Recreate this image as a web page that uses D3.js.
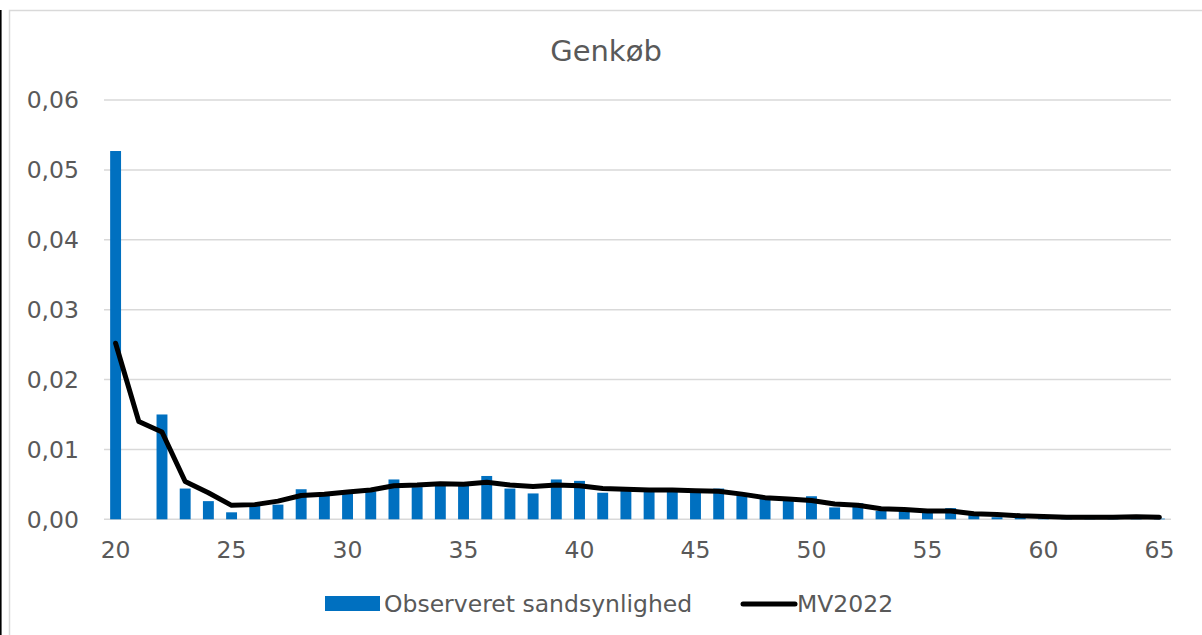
<!DOCTYPE html>
<html>
<head>
<meta charset="utf-8">
<script src="https://cdn.jsdelivr.net/npm/d3@7"></script>
<style>
  html, body { margin: 0; padding: 0; background: #fff; }
  svg { display: block; }
  text { font-family: "DejaVu Sans", Verdana, sans-serif; fill: #595959; }
</style>
</head>
<body>
<svg id="chart" width="1202" height="635"></svg>
<script>
const title = "Genkøb";
const ages = d3.range(20, 66);
const xTickLabels = [20, 25, 30, 35, 40, 45, 50, 55, 60, 65];
const yTicks = [0, 0.01, 0.02, 0.03, 0.04, 0.05, 0.06];
const seriesNames = ["Observeret sandsynlighed", "MV2022"];

const observed = [
  0.0527, 0.0000, 0.0150, 0.0044, 0.0026, 0.0010, 0.0019, 0.0021, 0.0043, 0.0035,
  0.0037, 0.0040, 0.0057, 0.0046, 0.0050, 0.0049, 0.0062, 0.0044, 0.0037, 0.0057,
  0.0055, 0.0038, 0.0041, 0.0041, 0.0041, 0.0040, 0.0044, 0.0034, 0.0029, 0.0027,
  0.0033, 0.0017, 0.0023, 0.0012, 0.0012, 0.0009, 0.0016, 0.0006, 0.0003, 0.0002,
  0.0001, 0.0001, 0.0001, 0.0001, 0.0001, 0.0001
];
const mv2022 = [
  0.0252, 0.0140, 0.0125, 0.0054, 0.0038, 0.0020, 0.0021, 0.0026, 0.0034, 0.0036,
  0.0039, 0.0042, 0.0048, 0.0049, 0.0051, 0.0050, 0.0053, 0.0049, 0.0047, 0.0049,
  0.0048, 0.0044, 0.0043, 0.0042, 0.0042, 0.0041, 0.0040, 0.0036, 0.0031, 0.0029,
  0.0027, 0.0022, 0.0020, 0.0015, 0.0014, 0.0012, 0.0012, 0.0008, 0.0007, 0.0005,
  0.0004, 0.0003, 0.0003, 0.0003, 0.00035, 0.0003
];

const svg = d3.select("#chart");
const blue = "#0070C0";

// frame
svg.append("rect").attr("x", 9.5).attr("y", 10.5).attr("width", 1200).attr("height", 640)
  .attr("fill", "#fff").attr("stroke", "#d9d9d9").attr("stroke-width", 1.5);
svg.append("line").attr("x1", 0.8).attr("x2", 0.8).attr("y1", 10).attr("y2", 635)
  .attr("stroke", "#000").attr("stroke-width", 1.6);

const x = d3.scaleBand().domain(ages).range([104, 1171]).padding(0);
const y = d3.scaleLinear().domain([0, 0.06]).range([519.3, 100]);
const bw = x.bandwidth() * 0.47;
const cx = a => x(a) + x.bandwidth() / 2;

const locale = d3.formatLocale({ decimal: ",", thousands: ".", grouping: [3], currency: ["", ""] });
const fmt = locale.format(".2f");

// gridlines
svg.append("g").selectAll("line").data(yTicks).join("line")
  .attr("x1", 104).attr("x2", 1171)
  .attr("y1", d => y(d)).attr("y2", d => y(d))
  .attr("stroke", "#d9d9d9").attr("stroke-width", 1.5);

// y labels
svg.append("g").selectAll("text").data(yTicks).join("text")
  .attr("x", 79).attr("y", d => y(d)).attr("dy", "0.36em")
  .attr("text-anchor", "end").attr("font-size", 23.5)
  .text(d => fmt(d));

// bars
svg.append("g").selectAll("rect").data(ages).join("rect")
  .attr("x", (a) => cx(a) - bw / 2)
  .attr("width", bw)
  .attr("y", (a, i) => y(observed[i]))
  .attr("height", (a, i) => y(0) - y(observed[i]))
  .attr("fill", blue);

// line
const line = d3.line().x((a) => cx(a)).y((a, i) => y(mv2022[i]));
svg.append("path").datum(ages).attr("d", line)
  .attr("fill", "none").attr("stroke", "#000").attr("stroke-width", 5)
  .attr("stroke-linejoin", "round").attr("stroke-linecap", "round");

// x labels
svg.append("g").selectAll("text").data(xTickLabels).join("text")
  .attr("x", d => cx(d)).attr("y", 558)
  .attr("text-anchor", "middle").attr("font-size", 23.5)
  .text(d => d);

// title
svg.append("text").attr("x", 606).attr("y", 61).attr("text-anchor", "middle")
  .attr("font-size", 29).text(title);

// legend
svg.append("rect").attr("x", 325).attr("y", 596).attr("width", 55).attr("height", 15).attr("fill", blue);
svg.append("text").attr("x", 384).attr("y", 612).attr("font-size", 23.5).text(seriesNames[0]);
svg.append("line").attr("x1", 743).attr("x2", 795).attr("y1", 604).attr("y2", 604)
  .attr("stroke", "#000").attr("stroke-width", 5).attr("stroke-linecap", "round");
svg.append("text").attr("x", 797).attr("y", 612).attr("font-size", 23.5).text(seriesNames[1]);
</script>
</body>
</html>
